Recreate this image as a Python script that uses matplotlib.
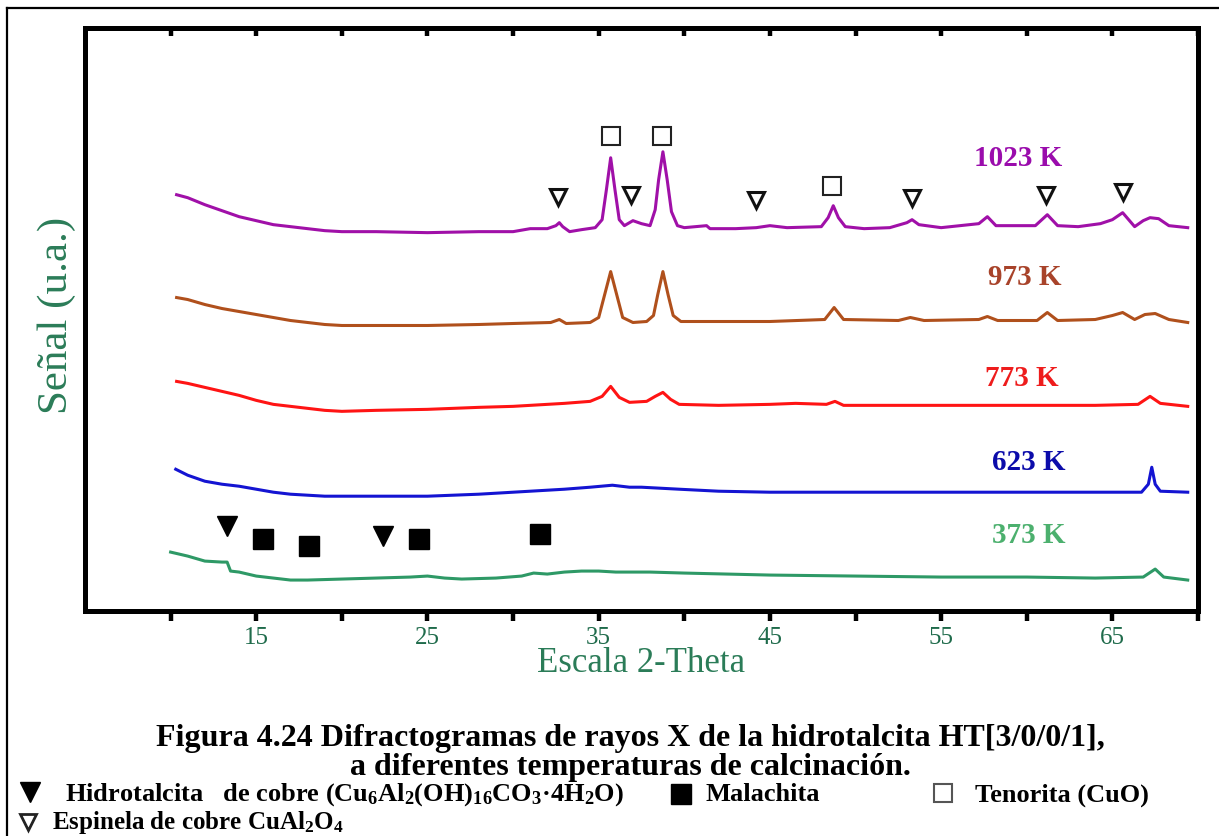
import matplotlib
matplotlib.use("Agg")
import matplotlib.pyplot as plt
from matplotlib.lines import Line2D

plt.rcParams['font.family'] = ['Liberation Serif', 'DejaVu Serif']
plt.rcParams['mathtext.fontset'] = 'custom'
plt.rcParams['mathtext.rm'] = 'Liberation Serif:bold'
plt.rcParams['mathtext.it'] = 'Liberation Serif:bold'
plt.rcParams['mathtext.bf'] = 'Liberation Serif:bold'
plt.rcParams['mathtext.default'] = 'rm'

# ---------------- data (2-theta, intensity a.u.) ----------------
pattern_1023K = [(10.35, 417), (11, 414), (12, 407), (13, 401), (14, 395), (15, 391), (16, 387), (17, 385),
                 (18, 383), (19, 381), (20, 380), (22, 380), (25, 379), (28, 380), (30, 380), (31, 383),
                 (32, 383), (32.5, 386), (32.7, 389), (32.9, 385), (33.3, 380), (34, 382), (34.8, 384),
                 (35.2, 392), (35.45, 422), (35.7, 454), (35.95, 422), (36.2, 392), (36.5, 386), (37.0, 391),
                 (37.5, 388), (38.0, 386), (38.3, 402), (38.5, 432), (38.75, 460), (39.0, 432), (39.25, 400),
                 (39.6, 386), (40, 384), (41.3, 386), (41.5, 383), (43, 383), (44.2, 384), (45, 386), (46, 384),
                 (48, 385), (48.4, 394), (48.7, 406), (49.0, 394), (49.4, 385), (50.5, 383), (52, 384),
                 (53.0, 389), (53.3, 392), (53.7, 387), (55, 384), (57.2, 388), (57.7, 395), (58.2, 386),
                 (60.5, 386), (61.2, 397), (61.8, 386), (63, 385), (64.3, 388), (65.0, 392), (65.6, 399),
                 (66.3, 385), (66.8, 391), (67.2, 394), (67.7, 393), (68.3, 386), (69.4, 384)]

pattern_973K = [(10.35, 314), (11, 312), (12, 307), (13, 303), (14, 300), (15, 297), (16, 294), (17, 291),
                (18, 289), (19, 287), (20, 286), (25, 286), (28, 287), (30, 288), (32.2, 289), (32.7, 292),
                (33.1, 288), (34.5, 289), (35.0, 294), (35.35, 317), (35.7, 340), (36.05, 317), (36.4, 294),
                (37.0, 289), (37.8, 290), (38.2, 296), (38.45, 317), (38.75, 340), (39.05, 317), (39.35, 296),
                (39.8, 290), (42, 290), (45, 290), (48.2, 292), (48.75, 304), (49.3, 292), (52.5, 291),
                (53.2, 294), (54, 291), (57.2, 292), (57.7, 295), (58.3, 291), (60.6, 291), (61.2, 299),
                (61.8, 291), (64.0, 292), (65.0, 296), (65.6, 299), (66.3, 292), (66.9, 297), (67.5, 298),
                (68.3, 292), (69.4, 289)]

pattern_773K = [(10.35, 230), (11, 228), (12, 224), (13, 220), (14, 216), (15, 211), (16, 207), (17, 205),
                (18, 203), (19, 201), (20, 200), (22, 201), (25, 202), (28, 204), (30, 205), (32, 207),
                (33, 208), (34.5, 210), (35.2, 215), (35.7, 225), (36.2, 214), (36.8, 209), (37.8, 210),
                (38.3, 215), (38.75, 219), (39.2, 212), (39.7, 207), (42, 206), (45, 207), (46.5, 208),
                (48.3, 207), (48.8, 210), (49.3, 206), (52, 206), (55, 206), (60, 206), (64, 206),
                (66.5, 207), (67.2, 215), (67.8, 208), (69.4, 205)]

pattern_623K = [(10.3, 142), (11, 136), (12, 130), (13, 127), (14, 125), (15, 122), (16, 119), (17, 117),
                (18, 116), (19, 115), (20, 115), (25, 115), (28, 117), (30, 119), (32, 121), (33, 122),
                (34.5, 124), (35.8, 126), (36.8, 124), (37.5, 124), (39.7, 122), (42, 120), (45, 119),
                (50, 119), (55, 119), (60, 119), (66.7, 119), (67.1, 127), (67.3, 144), (67.5, 127),
                (67.8, 120), (69.4, 119)]

pattern_373K = [(10.0, 59), (11, 55), (12, 50), (13, 49), (13.3, 49), (13.5, 40), (14, 39), (15, 35),
                (16, 33), (17, 31), (18, 31), (20, 32), (22, 33), (24, 34), (25, 35), (26, 33), (27, 32),
                (29, 33), (30.5, 35), (31.2, 38), (32, 37), (33, 39), (34, 40), (35, 40), (36, 39), (38, 39),
                (40, 38), (45, 36), (50, 35), (55, 34), (60, 34), (64, 33), (66.8, 34), (67.5, 42),
                (68.0, 34), (69.4, 31)]

series_names = ['1023 K', '973 K', '773 K', '623 K', '373 K']
series_patterns = [pattern_1023K, pattern_973K, pattern_773K, pattern_623K, pattern_373K]
line_colors = ['#A010A8', '#B0501C', '#FF1414', '#1414D2', '#2E9966']
text_colors = ['#9A0CAC', '#A8432A', '#EE1C1C', '#0C0CAA', '#4CB06E']
label_pos = [(59.5, 454), (59.9, 335), (59.7, 234), (60.1, 150), (60.1, 77)]

# phase markers (2-theta, intensity)
tenorita_pts = [(35.73, 476), (38.71, 476), (48.6, 426)]
espinela_pts = [(32.63, 415), (36.9, 417), (44.2, 412), (53.3, 414), (61.1, 417), (65.6, 420)]
hidrotalcita_pts = [(13.27, 85), (22.4, 75)]
malachita_pts = [(15.38, 72), (18.07, 65), (24.5, 72), (31.6, 77)]

xticks = [10, 15, 20, 25, 30, 35, 40, 45, 50, 55, 60, 65, 70]
xtick_labels = ['', '15', '', '25', '', '35', '', '45', '', '55', '', '65', '']

# ---------------- figure ----------------
W, H = 1219, 837
fig = plt.figure(figsize=(W / 100, H / 100), dpi=100)

def fx(px):
    return px / W

def fy(py):
    return 1 - py / H

# outer frame (top and left edges)
fig.add_artist(Line2D([fx(7), 1.0], [fy(9), fy(9)], color='black', lw=1.6, transform=fig.transFigure))
fig.add_artist(Line2D([fx(7), fx(7)], [0.0, fy(9)], color='black', lw=1.6, transform=fig.transFigure))

ax = fig.add_axes([fx(85), fy(612), fx(1198) - fx(85), fy(29) - fy(612)])
ax.set_xlim(5, 70)
ax.set_ylim(0, 584)

for name, pat, lc in zip(series_names, series_patterns, line_colors):
    xs = [p[0] for p in pat]
    ys = [p[1] for p in pat]
    ax.plot(xs, ys, color=lc, lw=2.2, solid_joinstyle='round')

for name, (lx, ly), tc in zip(series_names, label_pos, text_colors):
    ax.text(lx, ly, name, color=tc, fontsize=21, fontweight='bold', ha='center', va='center')

ax.plot([p[0] for p in tenorita_pts], [p[1] for p in tenorita_pts], ls='none', marker='s', ms=13,
        mfc='white', mec='#222222', mew=1.5)
ax.plot([p[0] for p in espinela_pts], [p[1] for p in espinela_pts], ls='none', marker='v', ms=12,
        mfc='white', mec='#111111', mew=2.2)
ax.plot([p[0] for p in hidrotalcita_pts], [p[1] for p in hidrotalcita_pts], ls='none', marker='v', ms=15,
        mfc='black', mec='black')
ax.plot([p[0] for p in malachita_pts], [p[1] for p in malachita_pts], ls='none', marker='s', ms=14,
        mfc='black', mec='black')

for s in ax.spines.values():
    s.set_linewidth(3.6)
ax.set_yticks([])
ax.set_xticks(xticks)
ax.set_xticklabels(xtick_labels)
ax.tick_params(axis='x', direction='out', length=7, width=3.2, labelsize=18, labelcolor='#1F6B4B', pad=4)

top = ax.secondary_xaxis('top')
top.set_xticks(xticks)
top.set_xticklabels([''] * len(xticks))
top.tick_params(direction='in', length=6, width=3.2)
top.spines['top'].set_visible(False)

green = '#2B7C58'
fig.text(fx(57), fy(315), 'Señal (u.a.)', rotation=90, ha='center', va='center', fontsize=31, color=green)
fig.text(fx(641), fy(664), 'Escala 2-Theta', ha='center', va='center', fontsize=25, color=green)

# caption
fig.text(fx(630), fy(739), 'Figura 4.24 Difractogramas de rayos X de la hidrotalcita HT[3/0/0/1],',
         ha='center', va='center', fontsize=23, fontweight='bold')
fig.text(fx(630), fy(768), 'a diferentes temperaturas de calcinación.',
         ha='center', va='center', fontsize=23, fontweight='bold')

# legend of phases
fig.add_artist(Line2D([fx(30)], [fy(793)], marker='v', ms=15, mfc='black', mec='black', ls='none',
                      transform=fig.transFigure))
fig.text(fx(65), fy(795), 'Hidrotalcita   de cobre (Cu$_6$Al$_2$(OH)$_{16}$CO$_3$·4H$_2$O)',
         ha='left', va='center', fontsize=19, fontweight='bold')
fig.add_artist(Line2D([fx(681)], [fy(795)], marker='s', ms=14, mfc='black', mec='black', ls='none',
                      transform=fig.transFigure))
fig.text(fx(705), fy(795), 'Malachita', ha='left', va='center', fontsize=19, fontweight='bold')
fig.add_artist(Line2D([fx(943)], [fy(794)], marker='s', ms=13, mfc='white', mec='#555555', mew=1.5,
                      ls='none', transform=fig.transFigure))
fig.text(fx(975), fy(795), 'Tenorita (CuO)', ha='left', va='center', fontsize=19, fontweight='bold')
fig.add_artist(Line2D([fx(28)], [fy(823)], marker='v', ms=12, mfc='white', mec='#222222', mew=2.0,
                      ls='none', transform=fig.transFigure))
fig.text(fx(52), fy(823), 'Espinela de cobre CuAl$_2$O$_4$', ha='left', va='center', fontsize=18,
         fontweight='bold')

fig.savefig('out.png', dpi=100)
